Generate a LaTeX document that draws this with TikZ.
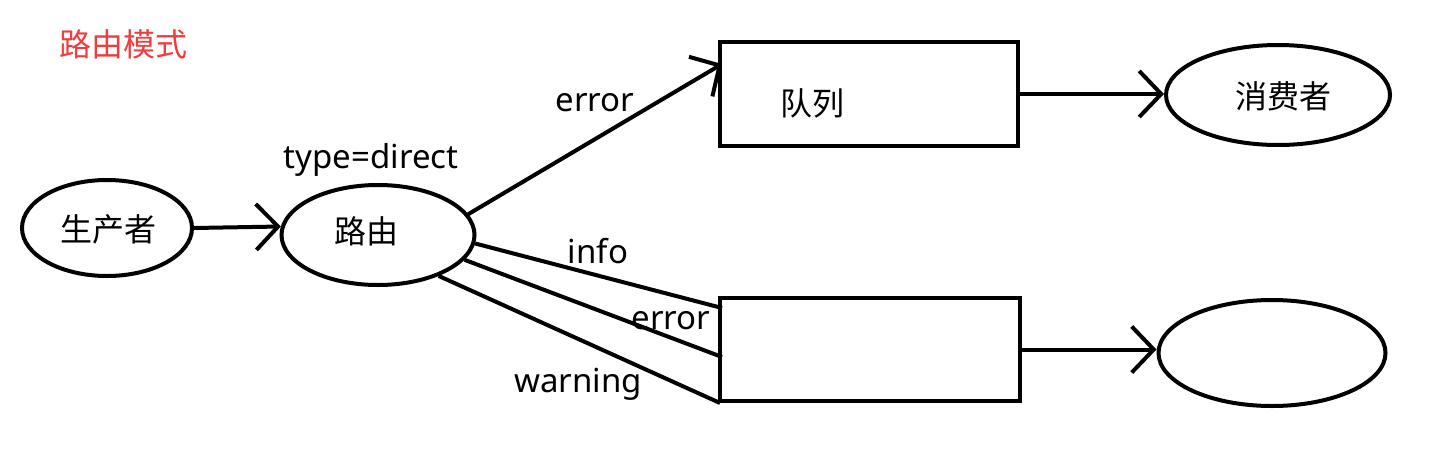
\documentclass[tikz,border=0pt]{standalone}
\usepackage{fontspec}
\setmainfont{Noto Sans}
\newfontfamily\cjk{Noto Sans CJK SC}
\usetikzlibrary{shapes.geometric,arrows.meta}
\definecolor{titlered}{RGB}{240,60,60}
\begin{document}
\begin{tikzpicture}[x=0.5pt,y=-0.5pt,
  ell/.style={draw,ellipse,line width=2pt,inner sep=0pt},
  box/.style={draw,rectangle,line width=2pt,inner sep=0pt},
  conn/.style={line width=2pt},
  arr/.style={line width=2pt,-{Straight Barb[length=11pt,width=23pt]}},
  lbl/.style={inner sep=0pt,font=\fontsize{16.5}{19}\selectfont},
  zh/.style={inner sep=0pt,font=\cjk\fontsize{16}{19}\selectfont}]
\useasboundingbox (0,0) rectangle (1443,471);
\node[zh,text=titlered] (title) at (123,44) {路由模式};
\node[ell,minimum width=85pt,minimum height=48pt] (p) at (107,228) {};
\node[zh] (pt) at (108,229) {生产者};
\node[ell,minimum width=96.5pt,minimum height=50pt] (r) at (378,235) {};
\node[zh] (rt) at (366,231) {路由};
\node[box,minimum width=149pt,minimum height=52pt] (q1) at (869,94) {};
\node[zh] (q1t) at (812,103) {队列};
\node[ell,minimum width=112pt,minimum height=50pt] (c1) at (1278,95) {};
\node[zh] (c1t) at (1283,96) {消费者};
\node[box,minimum width=150pt,minimum height=51.5pt] (q2) at (870,349.5) {};
\node[ell,minimum width=113.5pt,minimum height=53pt] (c2) at (1272,353) {};
\coordinate (e1) at (722,64);
\coordinate (i1) at (722,308);
\coordinate (i2) at (722,357);
\coordinate (i3) at (720,403);
\node[lbl] (ltype) at (371,160) {type=direct};
\node[lbl] (lerr1) at (595,103) {error};
\node[lbl] (linfo) at (598,251) {info};
\node[lbl] (lerr2) at (671,321) {error};
\node[lbl] (lwarn) at (578,384) {warning};
\draw[arr] (p.east) -- (r.175);
\draw[arr] (r.13) -- (e1);
\draw[conn] (r.-5) -- (i1);
\draw[conn] (r.-16) -- (i2);
\draw[conn] (r.-34) -- (i3);
\draw[arr] (q1.east) -- (c1.west |- q1.east);
\draw[arr] (q2.east) -- (c2.west |- q2.east);
\end{tikzpicture}
\end{document}
